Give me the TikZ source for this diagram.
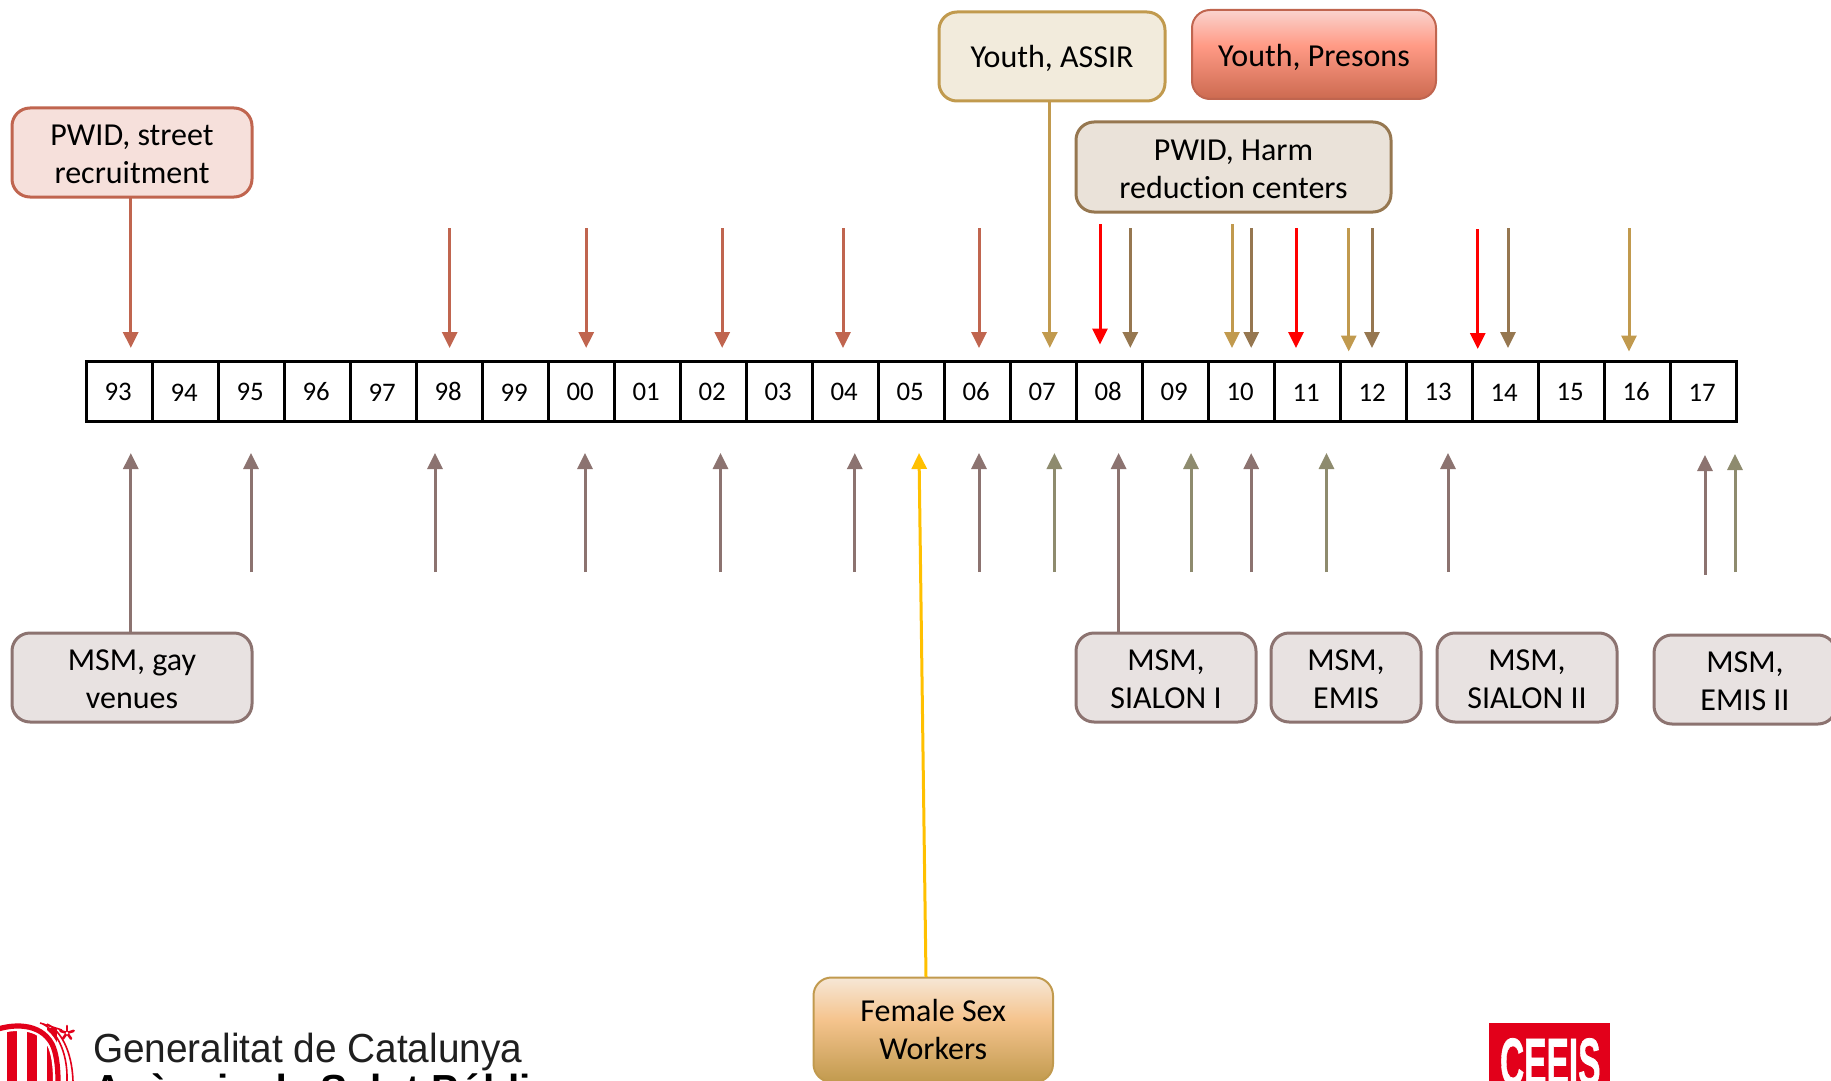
\documentclass[tikz,border=0pt]{standalone}
\usepackage{fontspec}
\setmainfont[Ligatures=NoCommon]{Carlito}
\newfontfamily\logofont{Liberation Sans}
\newfontfamily\ceeisfont[FakeBold=1.2]{Liberation Sans}
\usetikzlibrary{arrows.meta}
\definecolor{cPwid}{HTML}{C0654F}
\definecolor{cPwidF}{HTML}{F6E0DB}
\definecolor{cAssir}{HTML}{C19A4E}
\definecolor{cAssirF}{HTML}{F2EBDC}
\definecolor{cHarm}{HTML}{967750}
\definecolor{cHarmF}{HTML}{EAE2D9}
\definecolor{cMsm}{HTML}{8C7370}
\definecolor{cMsmF}{HTML}{E8E2E1}
\definecolor{cOlive}{HTML}{8E8B6E}
\definecolor{cYellow}{HTML}{FFC000}
\definecolor{cLogo}{HTML}{E2001A}
\definecolor{cPresBot}{HTML}{CC6A50}
\definecolor{cPresMid}{HTML}{FF9A85}
\definecolor{cPresTop}{HTML}{FAD3CE}
\definecolor{cFemMid}{HTML}{F5C48E}
\definecolor{cFemTop}{HTML}{F6E7D6}
\pgfdeclareverticalshading{presonsshade}{100bp}{color(0bp)=(cPresBot); color(25bp)=(cPresBot); color(55bp)=(cPresMid); color(75bp)=(cPresTop); color(100bp)=(cPresTop)}
\pgfdeclareverticalshading{femaleshade}{100bp}{color(0bp)=(cAssir); color(25bp)=(cAssir); color(55bp)=(cFemMid); color(75bp)=(cFemTop); color(100bp)=(cFemTop)}
\tikzset{
  x=0.5pt,y=-0.5pt,
  boxlabel/.style={rounded corners=9pt,line width=1.5pt,align=center,inner sep=0pt,outer sep=0pt,text=black,
    font=\fontsize{16}{19}\selectfont,text height=31.3pt},
  yearcell/.style={draw=black,line width=1.5pt,minimum width=33pt,minimum height=30.3pt,inner sep=0pt,outer sep=0pt,
    font=\fontsize{13.4}{15}\selectfont,text height=9.7pt},
  conn/.style={line width=1.5pt,-{Triangle[width=7.5pt,length=8pt]}},
  logotext/.style={anchor=base west,inner sep=0pt,outer sep=0pt}
}
\newcommand{\labelbox}[7]{%
  \node[boxlabel,#6,minimum width={(#4-#2)*0.5pt},minimum height={(#5-#3)*0.5pt}] (#1) at ({(#2+#4)/2},{(#3+#5)/2}) {#7};}
\begin{document}
\begin{tikzpicture}
\useasboundingbox (0,0) rectangle (1831,1081);
\clip (0,0) rectangle (1831,1081);
% year strip
\foreach \yr [count=\i from 0] in {93,94,95,96,97,98,99,00,01,02,03,04,05,06,07,08,09,10,11,12,13,14,15,16,17}
  \node[yearcell] (y\i) at ({86.4+66*(\i+0.5)},391.3) {\hspace*{-1.2pt}\yr};
% boxes
\labelbox{pwidstreet}{12}{108}{252}{197}{draw=cPwid,fill=cPwidF}{PWID, street\\recruitment}
\labelbox{assir}{939}{12}{1165}{101}{draw=cAssir,fill=cAssirF,text height=12.6pt}{Youth, ASSIR}
\labelbox{presons}{1192}{10}{1436}{99}{draw=cPwid,line width=1pt,shade,shading=presonsshade,text height=13.7pt}{Youth, Presons}
\labelbox{harm}{1076}{122}{1391}{212}{draw=cHarm,fill=cHarmF}{PWID, Harm\\reduction centers}
\labelbox{gay}{12}{633}{252}{722}{draw=cMsm,fill=cMsmF}{MSM, gay\\venues}
\labelbox{sialon}{1076}{633}{1256}{722}{draw=cMsm,fill=cMsmF}{MSM,\\SIALON I}
\labelbox{emis}{1271}{633}{1421}{722}{draw=cMsm,fill=cMsmF}{MSM,\\EMIS}
\labelbox{sialontwo}{1437}{633}{1617}{722}{draw=cMsm,fill=cMsmF}{MSM,\\SIALON II}
\labelbox{emistwo}{1654}{635}{1836}{724}{draw=cMsm,fill=cMsmF}{MSM,\\EMIS II}
\labelbox{female}{813.5}{977.5}{1053}{1082}{draw=cAssir,line width=1pt,shade,shading=femaleshade,text height=30.1pt}{Female Sex\\Workers}
% connectors from boxes
\coordinate (tipA) at (130.8,348);
\draw[conn,cPwid] (pwidstreet.south -| tipA) -- (tipA);
\coordinate (tipB) at (1049.8,348);
\draw[conn,cAssir] (assir.south -| tipB) -- (tipB);
\coordinate (tipC) at (130.8,453);
\draw[conn,cMsm] (gay.north -| tipC) -- (tipC);
\coordinate (tipD) at (1118.6,453);
\draw[conn,cMsm] (sialon.north -| tipD) -- (tipD);
\coordinate (tipE) at (919,453);
\coordinate (startE) at (926,977);
\draw[conn,cYellow] (startE) -- (tipE);
% free arrows
\foreach \x/\a/\b [count=\i] in {449.6/228/348,586.2/228/348,722.2/228/348,843/228/348,979/228/348}{
  \coordinate (pa\i) at (\x,\a); \coordinate (pb\i) at (\x,\b); \draw[conn,cPwid] (pa\i) -- (pb\i);}
\foreach \x/\a/\b [count=\i] in {1100/224/344.5,1296/228/348,1477.7/229/349}{
  \coordinate (ra\i) at (\x,\a); \coordinate (rb\i) at (\x,\b); \draw[conn,red] (ra\i) -- (rb\i);}
\foreach \x/\a/\b [count=\i] in {1130.3/228/348,1251.2/228/348,1372/228/348,1508/228/348}{
  \coordinate (ha\i) at (\x,\a); \coordinate (hb\i) at (\x,\b); \draw[conn,cHarm] (ha\i) -- (hb\i);}
\foreach \x/\a/\b [count=\i] in {1232/224/348,1348.7/228/351.5,1629/228/351.5}{
  \coordinate (ga\i) at (\x,\a); \coordinate (gb\i) at (\x,\b); \draw[conn,cAssir] (ga\i) -- (gb\i);}
\foreach \x/\a/\b [count=\i] in {251/572/453,435/572/453,585/572/453,720.5/572/453,854.8/572/453,979/572/453,1251.2/572/453,1448/572/453,1705/574.5/455}{
  \coordinate (ma\i) at (\x,\a); \coordinate (mb\i) at (\x,\b); \draw[conn,cMsm] (ma\i) -- (mb\i);}
\foreach \x/\a/\b [count=\i] in {1054.4/572/453,1191/572/453,1326.5/572/453,1735/572/454}{
  \coordinate (oa\i) at (\x,\a); \coordinate (ob\i) at (\x,\b); \draw[conn,cOlive] (oa\i) -- (ob\i);}
% Generalitat logo
\begin{scope}
  \clip (0,1022) rectangle (76,1081);
  \foreach \x in {-13,7,27,47}
    \fill[cLogo] (\x,1028) rectangle (\x+10,1081);
  \draw[white,line width=5pt] (-5,1030) .. controls (12,1024) and (40,1022) .. (52,1044) .. controls (56,1052) and (58,1065) .. (58,1081);
  \draw[cLogo,line width=2.6pt] (-5,1030) .. controls (12,1024) and (40,1022) .. (52,1044) .. controls (56,1052) and (58,1065) .. (58,1081);
  \draw[cLogo,line width=0.8pt] (43,1024) .. controls (55,1030) and (68,1050) .. (67,1081);
  \draw[cLogo,line width=0.8pt] (47,1024) .. controls (60,1030) and (72,1050) .. (73,1081);
  \draw[cLogo,line width=0.8pt] (40,1023) -- (62,1030);
  \foreach \a in {90,162,234,306,18}
    \draw[cLogo,line width=1.3pt,line cap=round] (67,1033) -- ++({\a}:-7);
  \fill[white] (67,1033) circle (1.5);
\end{scope}
\node[logotext,font=\logofont\fontsize{20.3}{24}\selectfont,text=black!88,xscale=0.956] (gencat) at (93,1062) {Generalitat de Catalunya};
\node[logotext,font=\logofont\bfseries\fontsize{20.3}{24}\selectfont,text=black] (agencia) at (93,1103) {Agència de Salut Públi};
% CEEIS logo
\fill[cLogo] (1489,1023) rectangle (1610,1081);
\node[logotext,font=\ceeisfont\bfseries\fontsize{33.5}{40}\selectfont,text=white,xscale=0.5] (ceeis) at (1500,1085) {CEEIS};
\end{tikzpicture}
\end{document}
